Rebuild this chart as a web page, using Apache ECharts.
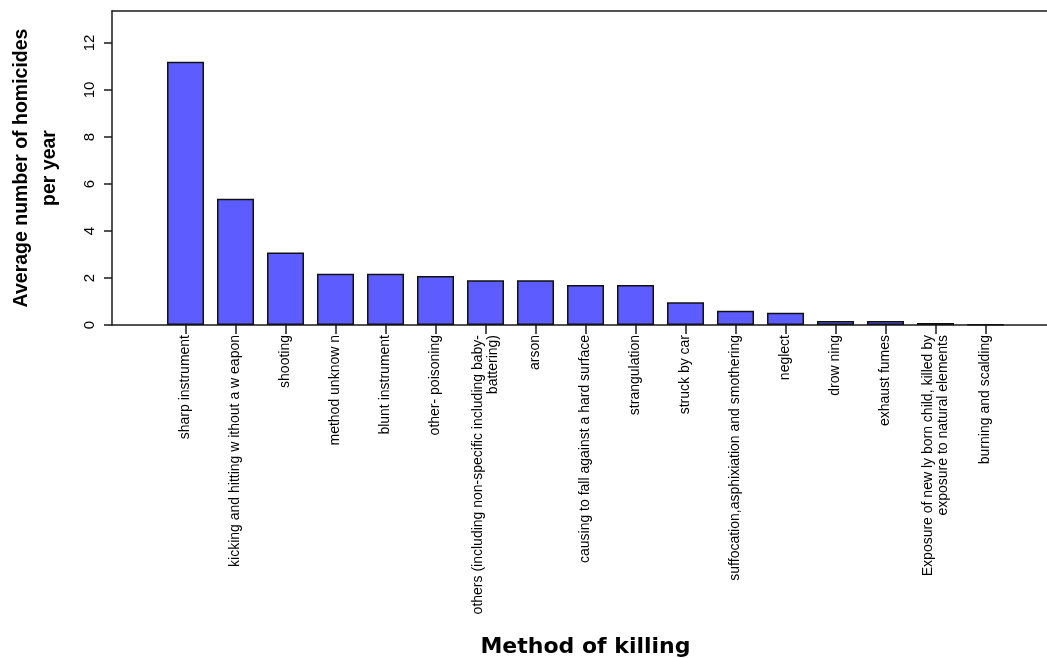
<!DOCTYPE html>
<html>
<head>
<meta charset="utf-8">
<script src="https://cdn.jsdelivr.net/npm/echarts@6/dist/echarts.min.js"></script>
<style>
  html, body { margin: 0; padding: 0; background: #fff; }
  #chart { width: 1047px; height: 658px; }
</style>
</head>
<body>
<div id="chart"></div>
<script>
// categories (text kept as drawn in the original, incl. split words)
var methods = [
  'sharp instrument',
  'kicking and hitting w ithout a w eapon',
  'shooting',
  'method unknow n',
  'blunt instrument',
  'other- poisoning',
  'others (including non-specific including baby-\nbattering)',
  'arson',
  'causing to fall against a hard surface',
  'strangulation',
  'struck by car',
  'suffocation,asphixiation and smothering',
  'neglect',
  'drow ning',
  'exhaust fumes',
  'Exposure of new ly born child, killed by\nexposure to natural elements',
  'burning and scalding'
];
// average homicides per year
var avgPerYear = [11.2, 5.37, 3.08, 2.18, 2.18, 2.08, 1.9, 1.9, 1.7, 1.7, 0.97, 0.61, 0.52, 0.17, 0.17, 0.08, 0.02];
// y tick labels
var yTicks = [0, 2, 4, 6, 8, 10, 12];
var yMax = 13.36;

var chart = echarts.init(document.getElementById('chart'));

var lineStyle = { color: '#1a1a1a', width: 1.5 };

var option = {
  animation: false,
  grid: [
    // frame (box around plot)
    { left: 112, right: 0, top: 11, bottom: 333, outerBoundsMode: 'none', containLabel: false },
    // data area
    { left: 160.5, right: 36.5, top: 11, bottom: 333, outerBoundsMode: 'none', containLabel: false }
  ],
  xAxis: [
    {
      gridIndex: 0, type: 'value', min: 0, max: 1, position: 'bottom',
      axisLine: { show: true, lineStyle: lineStyle },
      axisTick: { show: false }, axisLabel: { show: false }, splitLine: { show: false }
    },
    {
      gridIndex: 0, type: 'value', min: 0, max: 1, position: 'top',
      axisLine: { show: true, lineStyle: lineStyle },
      axisTick: { show: false }, axisLabel: { show: false }, splitLine: { show: false }
    },
    {
      gridIndex: 1, type: 'category', data: methods, position: 'bottom',
      axisLine: { show: false },
      axisTick: { show: true, alignWithLabel: true, length: 9, lineStyle: lineStyle },
      axisLabel: {
        interval: 0, rotate: 90, margin: 10,
        fontFamily: 'Liberation Sans, Arial, sans-serif', fontSize: 14, color: '#000',
        lineHeight: 15
      },
      name: 'Method of killing',
      nameLocation: 'middle',
      nameGap: 311,
      nameTextStyle: {
        fontFamily: 'DejaVu Sans', fontWeight: 'bold', fontSize: 22, color: '#000'
      }
    }
  ],
  yAxis: [
    {
      gridIndex: 0, type: 'value', min: 0, max: yMax,
      axisLine: { show: true, lineStyle: lineStyle },
      axisTick: { show: true, length: 8, lineStyle: lineStyle, customValues: yTicks },
      axisLabel: {
        rotate: 90, margin: 15, customValues: yTicks,
        fontFamily: 'Liberation Sans, Arial, sans-serif', fontSize: 15, color: '#000'
      },
      splitLine: { show: false },
      name: 'Average number of homicides\nper year',
      nameLocation: 'middle',
      nameGap: 48,
      nameTextStyle: {
        fontFamily: 'Liberation Sans, Arial, sans-serif',
        fontWeight: 'bold', fontSize: 19.5, lineHeight: 28, color: '#000'
      }
    },
    {
      gridIndex: 1, type: 'value', min: 0, max: yMax, show: false
    }
  ],
  series: [{
    type: 'bar',
    xAxisIndex: 2,
    yAxisIndex: 1,
    data: avgPerYear,
    barWidth: 37,
    itemStyle: { color: '#5c5cff', borderColor: '#111', borderWidth: 1.5 }
  }]
};

chart.setOption(option);
</script>
</body>
</html>
